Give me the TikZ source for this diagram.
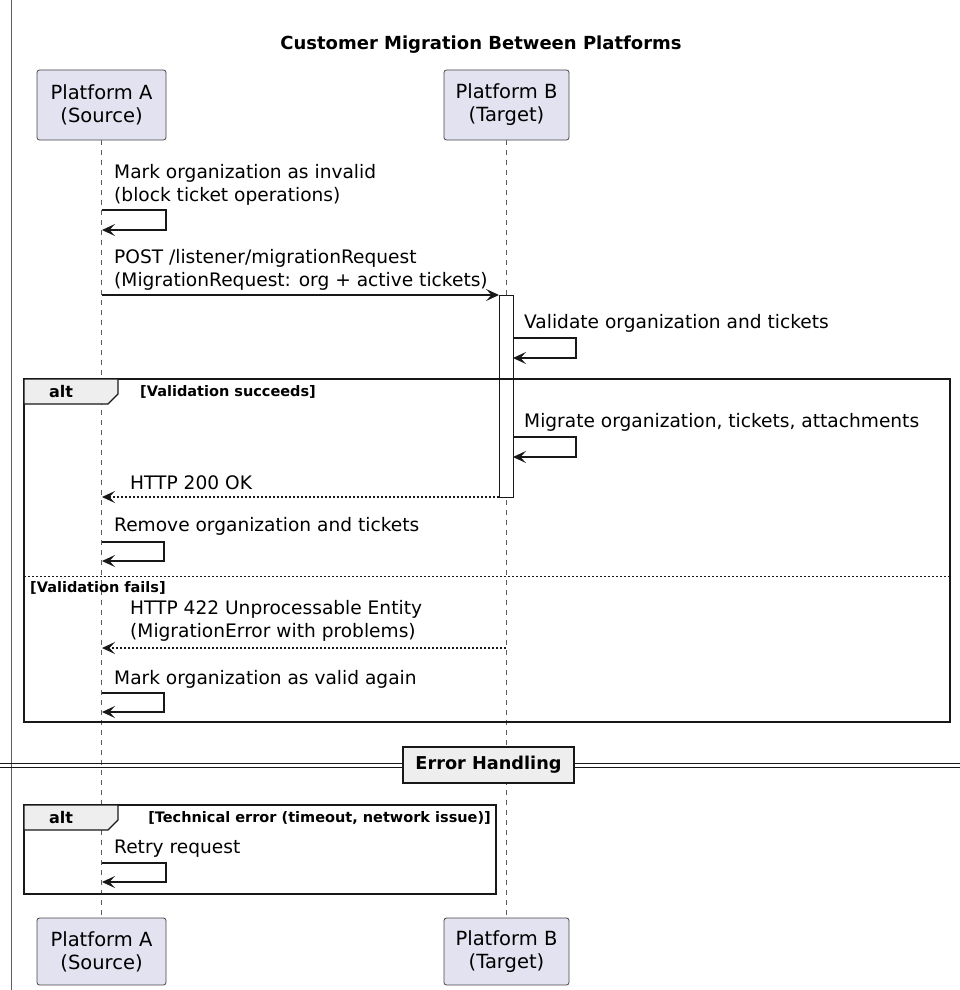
\documentclass[tikz,border=0pt]{standalone}
\usepackage{fontspec}
\setmainfont{DejaVu Sans}
\usetikzlibrary{arrows.meta,positioning}
\definecolor{partyfill}{HTML}{E2E2F0}
\definecolor{tabfill}{HTML}{EEEEEE}
\definecolor{ink}{HTML}{181818}
\newcommand{\msgfont}{\fontsize{18.6}{22.5}\selectfont}
\newcommand{\partyfont}{\fontsize{19.5}{23}\selectfont}
\newcommand{\guardfont}{\bfseries\fontsize{14.5}{16}\selectfont}

\tikzset{
  party/.style={draw=ink!80, fill=partyfill, rounded corners=2.5pt, minimum height=70pt,
    align=center, font=\partyfont, line width=0.8pt},
  lifeline/.style={draw=ink!70, dash pattern=on 5pt off 5pt, line width=0.5pt},
  msg/.style={draw=ink, line width=1.2pt, -{Stealth[length=13pt,width=12pt,inset=5.5pt]}},
  reply/.style={msg, dash pattern=on 2pt off 2pt},
  msgtext/.style={anchor=west, align=left, font=\msgfont, inner sep=0pt},
  frame/.style={draw=ink, line width=1.6pt},
  tabbox/.style={draw=ink, fill=tabfill, line width=1.2pt},
  guard/.style={anchor=west, font=\guardfont, inner sep=0pt},
  actbar/.style={draw=ink, fill=white, line width=0.8pt},
}

\begin{document}
\begin{tikzpicture}[x=1pt,y=-1pt]
  \useasboundingbox (0,0) rectangle (960,990);
  \draw[ink!70, line width=0.8pt] (11,0) -- (11,990);

  \node[font=\bfseries\fontsize{18}{20}\selectfont] (title) at (481,45) {Customer Migration Between Platforms};

  % participants
  \node[party, minimum width=129pt] (pa) at (101.5,105) {Platform A\\(Source)};
  \node[party, minimum width=125pt] (pb) at (506.5,105) {Platform B\\(Target)};
  \node[party, minimum width=129pt, minimum height=67pt] (pa2) at (101.5,951.5) {Platform A\\(Source)};
  \node[party, minimum width=125pt, minimum height=67pt] (pb2) at (506.5,951.5) {Platform B\\(Target)};

  \draw[lifeline] (pa.south) -- (pa2.north);
  \draw[lifeline] (pb.south) -- (pb2.north);

  % activation on B
  \draw[actbar] (499,295) rectangle (513,497);

  % coordinates on the lifelines
  \coordinate (a1) at (102,210);
  \coordinate (a2) at (102,295);
  \coordinate (b2) at (499,295);
  \coordinate (b3) at (513,338);
  \coordinate (b4) at (513,437);
  \coordinate (b5) at (499,497);
  \coordinate (a5) at (102,497);
  \coordinate (a6) at (102,542);
  \coordinate (b7) at (506,648);
  \coordinate (a7) at (102,648);
  \coordinate (a8) at (102,693);
  \coordinate (a9) at (102,863);

  % messages
  \node[msgtext] (t1) at (114,185) {Mark organization as invalid\\(block ticket operations)};
  \draw[msg] (a1) -- ++(64,0) -- ++(0,20) -- ++(-64,0);

  \node[msgtext] (t2) at (114,270) {POST /listener/migrationRequest\\(MigrationRequest: org + active tickets)};
  \draw[msg] (a2) -- (b2);

  \node[msgtext] (t3) at (524,323) {Validate organization and tickets};
  \draw[msg] (b3) -- ++(63,0) -- ++(0,20) -- ++(-63,0);

  % alt 1
  \draw[frame] (24,379) rectangle (950,722);
  \draw[tabbox] (24,379) -- (118,379) -- (118,394) -- (108,404) -- (24,404) -- cycle;
  \node[font=\bfseries\fontsize{16}{18}\selectfont] (alt1) at (61,392) {alt};
  \node[guard] (g1) at (140,392) {[Validation succeeds]};

  \node[msgtext] (t4) at (524,422) {Migrate organization, tickets, attachments};
  \draw[msg] (b4) -- ++(63,0) -- ++(0,20) -- ++(-63,0);

  \node[msgtext] (t5) at (130,483) {HTTP 200 OK};
  \draw[reply] (b5) -- (a5);

  \node[msgtext] (t6) at (114,526) {Remove organization and tickets};
  \draw[msg] (a6) -- ++(62,0) -- ++(0,19) -- ++(-62,0);

  \draw[ink, line width=0.8pt, dash pattern=on 2pt off 2pt] (24,576) -- (950,576);
  \node[guard] (g2) at (30,588) {[Validation fails]};

  \node[msgtext] (t7) at (130,621) {HTTP 422 Unprocessable Entity\\(MigrationError with problems)};
  \draw[reply] (b7) -- (a7);

  \node[msgtext] (t8) at (114,679) {Mark organization as valid again};
  \draw[msg] (a8) -- ++(62,0) -- ++(0,19) -- ++(-62,0);

  % divider
  \draw[ink, line width=0.9pt] (0,763) -- (960,763);
  \draw[ink, line width=0.9pt] (0,767) -- (960,767);
  \node[draw=ink, fill=tabfill, line width=1.8pt, minimum width=171pt, minimum height=36pt,
    font=\bfseries\fontsize{17.7}{20}\selectfont] (err) at (488.5,765) {Error Handling};

  % alt 2
  \draw[frame] (24,805) rectangle (496,894);
  \draw[tabbox] (24,805) -- (118,805) -- (118,820) -- (108,830) -- (24,830) -- cycle;
  \node[font=\bfseries\fontsize{16}{18}\selectfont] (alt2) at (61,818) {alt};
  \node[guard, anchor=east] (g3) at (491,818) {[Technical error (timeout, network issue)]};

  \node[msgtext] (t9) at (114,849) {Retry request};
  \draw[msg] (a9) -- ++(64,0) -- ++(0,19) -- ++(-64,0);
\end{tikzpicture}
\end{document}
